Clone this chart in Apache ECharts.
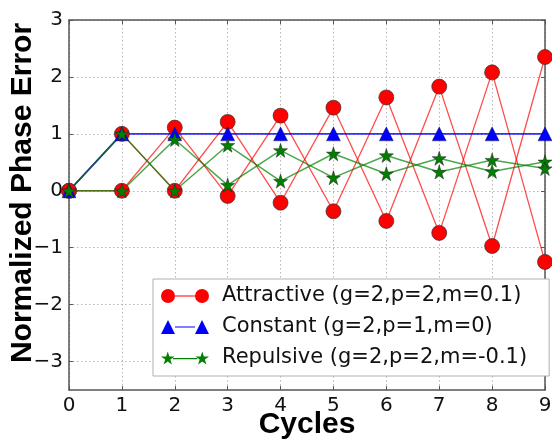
<!DOCTYPE html>
<html>
<head>
<meta charset="utf-8">
<script src="https://cdn.jsdelivr.net/npm/echarts@6/dist/echarts.min.js"></script>
<style>
  html, body { margin: 0; padding: 0; background: #fff; }
  #chart { width: 552px; height: 446px; }
</style>
</head>
<body>
<div id="chart"></div>
<script>
// Phase error per cycle; each configuration produces two interleaved tracks
const cycles = [0, 1, 2, 3, 4, 5, 6, 7, 8, 9];
const attractiveA = [0, 1, 0, 1.21, -0.21, 1.46, -0.53, 1.83, -0.97, 2.35];
const attractiveB = [0, 0, 1.11, -0.09, 1.32, -0.36, 1.64, -0.74, 2.08, -1.25];
const constantTrack = [0, 1, 1, 1, 1, 1, 1, 1, 1, 1];
const repulsiveA = [0, 1, 0, 0.80, 0.17, 0.65, 0.30, 0.57, 0.34, 0.51];
const repulsiveB = [0, 0, 0.90, 0.10, 0.71, 0.23, 0.62, 0.33, 0.54, 0.39];

const seriesNames = [
  'Attractive (g=2,p=2,m=0.1)',
  'Constant (g=2,p=1,m=0)',
  'Repulsive (g=2,p=2,m=-0.1)'
];
const xTicks = [0, 1, 2, 3, 4, 5, 6, 7, 8, 9];
const yTicks = [-3, -2, -1, 0, 1, 2, 3];

// five-pointed star outline
function starPath(cx, cy, R) {
  const r = R * 0.382;
  let d = '';
  for (let k = 0; k < 10; k++) {
    const a = (-90 + k * 36) * Math.PI / 180;
    const rad = k % 2 === 0 ? R : r;
    d += (k === 0 ? 'M' : 'L') + (cx + rad * Math.cos(a)).toFixed(3) + ',' + (cy + rad * Math.sin(a)).toFixed(3);
  }
  return d + 'Z';
}
const starSymbol = 'path://' + starPath(0, 0, 10);

// legend glyphs: two markers joined by a thin line
const legendCircles = 'path://M0,7a7,7 0 1,0 14,0a7,7 0 1,0 -14,0Z M14,6.4L34,6.4L34,7.6L14,7.6Z M34,7a7,7 0 1,0 14,0a7,7 0 1,0 -14,0Z';
const legendTriangles = 'path://M0,14L7,0L14,14Z M14,6.4L34,6.4L34,7.6L14,7.6Z M34,14L41,0L48,14Z';
const legendStars = 'path://' + starPath(7, 7, 7) + ' M12,6.4L36,6.4L36,7.6L12,7.6Z ' + starPath(41, 7, 7);

const toXY = arr => cycles.map((c, i) => [c, arr[i]]);
const minus = v => String(v).replace('-', '\u2212');

const frameColor = '#555';
const gridLine = { show: true, lineStyle: { color: '#b5b5b5', type: [1.5, 2.5], width: 1 } };

const redLine = { color: 'rgba(255,0,0,0.7)', width: 1.3 };
const redItem = { color: '#ff0000', borderColor: '#333', borderWidth: 0.7 };
const greenLine = { color: 'rgba(0,128,0,0.7)', width: 1.5 };
const greenItem = { color: '#007f00', borderColor: '#222', borderWidth: 0.5 };

const chart = echarts.init(document.getElementById('chart'), null, { renderer: 'canvas' });
chart.setOption({
  animation: false,
  backgroundColor: '#fff',
  textStyle: { fontFamily: 'DejaVu Sans' },
  grid: { left: 69, top: 20, right: 7, bottom: 56, show: false, containLabel: false, outerBoundsMode: 'none' },
  legend: {
    orient: 'vertical',
    left: 153,
    top: 279,
    padding: [6, 22, 7, 8],
    itemGap: 9,
    itemWidth: 48,
    itemHeight: 14,
    backgroundColor: '#fff',
    borderColor: '#b0b0b0',
    borderWidth: 1,
    borderRadius: 0,
    itemStyle: { borderWidth: 0 },
    textStyle: { fontFamily: 'DejaVu Sans', fontSize: 21, color: '#111', padding: [0, 0, 0, 8], lineHeight: 22 },
    data: [
      { name: seriesNames[0], icon: legendCircles },
      { name: seriesNames[1], icon: legendTriangles },
      { name: seriesNames[2], icon: legendStars }
    ]
  },
  xAxis: [{
    type: 'value',
    min: 0, max: 9, interval: 1,
    name: 'Cycles',
    nameLocation: 'middle',
    nameGap: 20,
    nameMoveOverlap: false,
    nameTextStyle: { fontFamily: 'Liberation Sans', fontWeight: 'bold', fontSize: 30, color: '#000' },
    axisLine: { show: true, onZero: false, lineStyle: { color: frameColor, width: 1.5 } },
    axisTick: { show: true, inside: true, length: 4, lineStyle: { color: frameColor } },
    axisLabel: { show: true, fontSize: 20, color: '#111', margin: 6, customValues: xTicks },
    splitLine: gridLine
  }, {
    type: 'value', position: 'top',
    min: 0, max: 9, interval: 1,
    axisLine: { show: true, onZero: false, lineStyle: { color: frameColor, width: 1.5 } },
    axisTick: { show: true, inside: true, length: 4, lineStyle: { color: frameColor } },
    axisLabel: { show: false },
    splitLine: { show: false }
  }],
  yAxis: [{
    type: 'value',
    min: -3.5, max: 3,
    name: 'Normalized Phase Error',
    nameLocation: 'middle',
    nameGap: 31,
    nameMoveOverlap: false,
    nameTextStyle: { fontFamily: 'Liberation Sans', fontWeight: 'bold', fontSize: 30, color: '#000', padding: [0, 0, 0, 24] },
    axisLine: { show: true, onZero: false, lineStyle: { color: frameColor, width: 1.5 } },
    axisTick: { show: true, inside: true, length: 4, customValues: yTicks, lineStyle: { color: frameColor } },
    axisLabel: { show: true, fontSize: 20, color: '#111', margin: 6, customValues: yTicks, formatter: minus },
    splitLine: gridLine
  }, {
    type: 'value', position: 'right',
    min: -3.5, max: 3,
    axisLine: { show: true, onZero: false, lineStyle: { color: frameColor, width: 1.5 } },
    axisTick: { show: true, inside: true, length: 4, customValues: yTicks, lineStyle: { color: frameColor } },
    axisLabel: { show: false },
    splitLine: { show: false }
  }],
  series: [
    {
      name: seriesNames[0], type: 'line', data: toXY(attractiveA),
      symbol: 'circle', symbolSize: 15, lineStyle: redLine, itemStyle: redItem
    },
    {
      name: seriesNames[0], type: 'line', data: toXY(attractiveB),
      symbol: 'circle', symbolSize: 15, lineStyle: redLine, itemStyle: redItem
    },
    {
      name: seriesNames[1], type: 'line', data: toXY(constantTrack),
      symbol: 'triangle', symbolSize: 14,
      lineStyle: { color: 'rgba(0,0,255,0.8)', width: 1.8 },
      itemStyle: { color: '#0000ff', borderColor: '#222', borderWidth: 0.4 }
    },
    {
      name: seriesNames[2], type: 'line', data: toXY(repulsiveA),
      symbol: starSymbol, symbolSize: 14, lineStyle: greenLine, itemStyle: greenItem
    },
    {
      name: seriesNames[2], type: 'line', data: toXY(repulsiveB),
      symbol: starSymbol, symbolSize: 14, lineStyle: greenLine, itemStyle: greenItem
    }
  ]
});
</script>
</body>
</html>
